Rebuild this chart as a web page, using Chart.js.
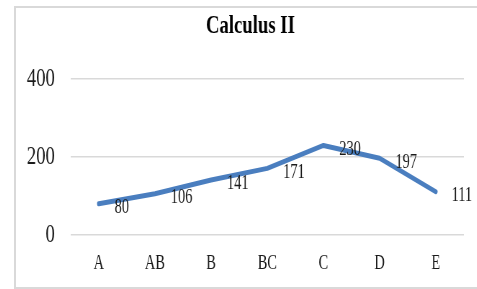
<!DOCTYPE html>
<html>
<head>
<meta charset="utf-8">
<script src="https://cdn.jsdelivr.net/npm/chart.js@4/dist/chart.umd.min.js"></script>
<style>
    html, body { margin: 0; padding: 0; background: #fff; overflow: hidden; width: 477px; height: 289px; }
    #frame {
        position: absolute; left: 14px; top: 6px;
        width: 480px; height: 279px;
        border: 2px solid #d9d9d9;
        overflow: hidden;
    }
    /* reference text is horizontally condensed, so squeeze the whole canvas */
    #calcChart { transform: scaleX(0.72); transform-origin: 0 0; display: block; }
</style>
</head>
<body>
<div id="frame">
    <canvas id="calcChart" width="651" height="278"></canvas>
</div>
<script>
// Chart data
const grades = ['A', 'AB', 'B', 'BC', 'C', 'D', 'E'];
const students = [80, 106, 141, 171, 230, 197, 111];
const yTicks = [0, 200, 400];

const serif = "'Liberation Serif', 'Times New Roman', serif";

// Value labels to the right of each point
const valueLabels = {
    id: 'valueLabels',
    afterDatasetsDraw(chart) {
        const ctx = chart.ctx;
        const meta = chart.getDatasetMeta(0);
        ctx.save();
        ctx.font = '20px ' + serif;
        ctx.fillStyle = '#1a1a1a';
        ctx.textAlign = 'left';
        ctx.textBaseline = 'middle';
        meta.data.forEach((pt, i) => {
            ctx.fillText(String(students[i]), pt.x + 22, pt.y + 4);
        });
        ctx.restore();
    }
};

const ctx = document.getElementById('calcChart');

new Chart(ctx, {
    type: 'line',
    data: {
        labels: grades,
        datasets: [{
            label: 'Calculus II',
            data: students,
            borderColor: '#4a7ebf',
            borderWidth: 5,
            borderCapStyle: 'round',
            borderJoinStyle: 'round',
            pointRadius: 0,
            tension: 0,
            fill: false
        }]
    },
    options: {
        responsive: false,
        animation: false,
        layout: {
            padding: { left: 0, right: 0, top: 0, bottom: -7 }
        },
        plugins: {
            legend: { display: false },
            tooltip: { enabled: false },
            title: {
                display: true,
                text: 'Calculus II',
                color: '#000',
                font: { family: serif, size: 26, weight: 'bold' },
                padding: { top: 3, bottom: 37 }
            }
        },
        scales: {
            x: {
                offset: true,
                grid: { display: false, drawTicks: false },
                border: { display: false },
                ticks: {
                    color: '#1a1a1a',
                    padding: 17,
                    font: { family: serif, size: 20 }
                }
            },
            y: {
                min: 0,
                max: 400,
                afterBuildTicks: scale => {
                    scale.ticks = yTicks.map(v => ({ value: v }));
                },
                afterFit: scale => { scale.width = 76; },
                grid: { color: '#d9d9d9', lineWidth: 1.5, drawTicks: false },
                border: { display: false },
                ticks: {
                    color: '#1a1a1a',
                    padding: 22,
                    font: { family: serif, size: 26 }
                }
            },
            // empty right-hand axis, only reserves space on the right
            yRight: {
                position: 'right',
                min: 0,
                max: 400,
                afterFit: scale => { scale.width = 29; },
                grid: { display: false, drawTicks: false },
                border: { display: false },
                ticks: { display: false }
            }
        }
    },
    plugins: [valueLabels]
});
</script>
</body>
</html>
